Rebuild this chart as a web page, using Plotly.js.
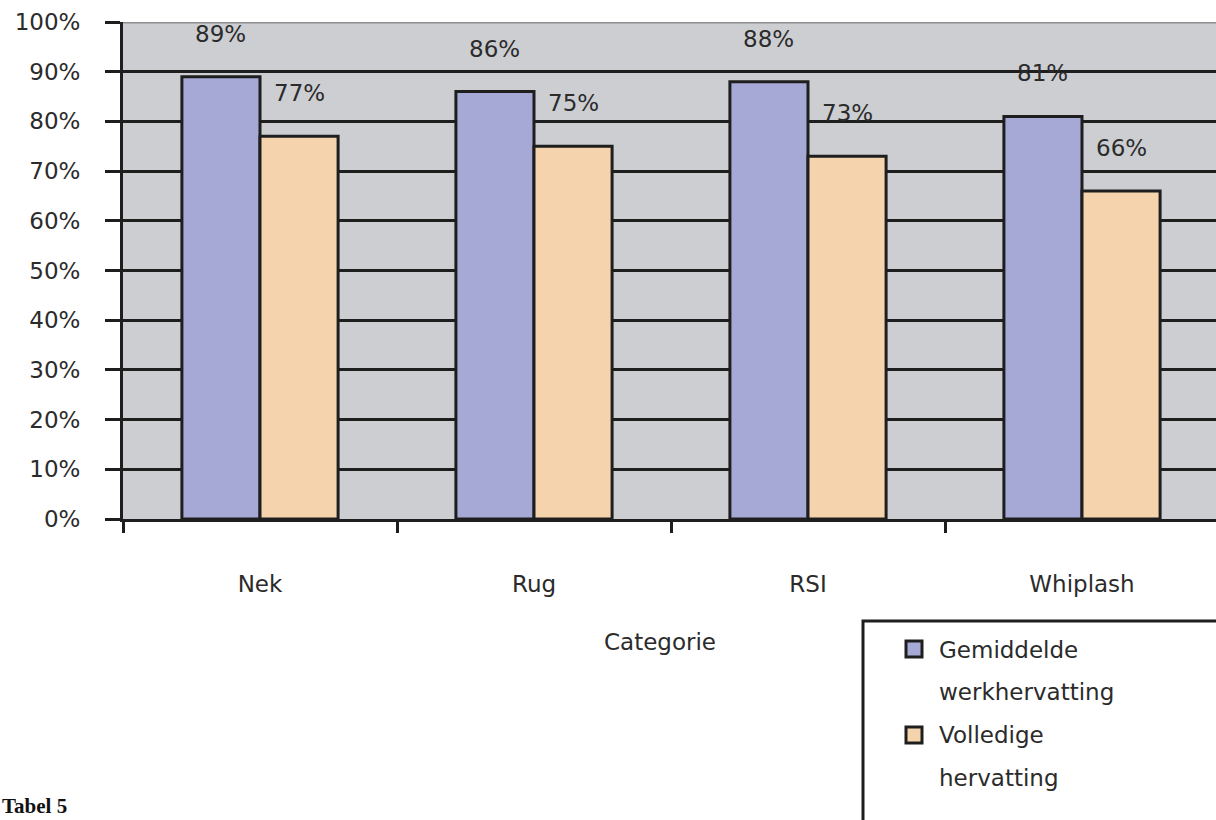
<!DOCTYPE html>
<html>
<head>
<meta charset="utf-8">
<script src="https://cdn.plot.ly/plotly-3.0.1.min.js"></script>
<style>
  html, body { margin: 0; padding: 0; background: #ffffff; }
  #chart { width: 1216px; height: 820px; }
</style>
</head>
<body>
<div id="chart"></div>
<script>
// Werkhervatting per categorie (percentages)
const categories = ['Nek', 'Rug', 'RSI', 'Whiplash'];
const seriesNames = ['Gemiddelde<br>werkhervatting', 'Volledige<br>hervatting'];
const gemiddelde = [89, 86, 88, 81];
const volledige = [77, 75, 73, 66];
const yTickVals = [0, 10, 20, 30, 40, 50, 60, 70, 80, 90, 100];
const yTickText = ['0%', '10%', '20%', '30%', '40%', '50%', '60%', '70%', '80%', '90%', '100%'];

const colors = ['#a6a8d6', '#f5d4ad'];
const font = 'DejaVu Sans, Verdana, sans-serif';
const textColor = '#2b2b2b';

const W = 1216, H = 820;
const margin = { l: 123, r: 0, t: 22, b: 301 };
const plotW = W - margin.l - margin.r;
const plotH = H - margin.t - margin.b;
// pixel -> paper helpers for the decorations around the plot
const px = x => (x - margin.l) / plotW;
const py = y => (H - margin.b - y) / plotH;

const bargap = 0.43;
const barHalf = (1 - bargap) / 4; // center offset of each bar in a group

const seriesValues = [gemiddelde, volledige];
const traces = seriesValues.map((vals, k) => ({
  type: 'bar',
  x: categories,
  y: vals,
  name: seriesNames[k],
  marker: { color: colors[k], line: { color: '#1e1e1e', width: 3 } },
  hoverinfo: 'x+y',
  showlegend: false
}));

const annotations = [];
// value labels, set above each bar
seriesValues.forEach((vals, k) => {
  vals.forEach((v, i) => {
    annotations.push({
      x: i + (k === 0 ? -barHalf : barHalf),
      y: v,
      xref: 'x', yref: 'y',
      text: v + '%',
      showarrow: false,
      yanchor: 'middle',
      yshift: 43,
      font: { family: font, size: 23, color: textColor }
    });
  });
});

// axis title
annotations.push({
  x: px(660), y: py(657), xref: 'paper', yref: 'paper',
  text: 'Categorie', showarrow: false,
  font: { family: font, size: 23, color: textColor }
});

// legend text lines
const legendLines = [
  seriesNames[0].split('<br>'),
  seriesNames[1].split('<br>')
];
const legendRows = [650, 692, 735, 778];
let row = 0;
legendLines.forEach(lines => {
  lines.forEach(line => {
    annotations.push({
      x: px(937), y: py(legendRows[row]), xref: 'paper', yref: 'paper',
      xanchor: 'left', yanchor: 'middle',
      text: line, showarrow: false,
      font: { family: font, size: 23, color: textColor }
    });
    row++;
  });
});

// caption at the bottom left
annotations.push({
  x: px(0), y: py(820), xref: 'paper', yref: 'paper',
  xanchor: 'left', yanchor: 'bottom',
  text: '<b>Tabel 5</b>', showarrow: false,
  font: { family: 'Liberation Serif, Times New Roman, serif', size: 21, color: '#111' }
});

const shapes = [
  // top border of the plot area
  { type: 'line', xref: 'paper', yref: 'y', x0: 0, x1: 1, y0: 100, y1: 100,
    line: { color: '#8e8e90', width: 3 }, layer: 'above' },
  // legend box
  { type: 'rect', xref: 'paper', yref: 'paper',
    x0: px(863), x1: px(1230), y0: py(621), y1: py(840),
    line: { color: '#1e1e1e', width: 3 }, fillcolor: '#ffffff' },
  // legend swatches
  { type: 'rect', xref: 'paper', yref: 'paper',
    x0: px(906), x1: px(922), y0: py(641), y1: py(657),
    line: { color: '#1e1e1e', width: 3 }, fillcolor: colors[0] },
  { type: 'rect', xref: 'paper', yref: 'paper',
    x0: px(906), x1: px(922), y0: py(727), y1: py(743),
    line: { color: '#1e1e1e', width: 3 }, fillcolor: colors[1] }
];

const layout = {
  width: W, height: H,
  margin: margin,
  paper_bgcolor: '#ffffff',
  plot_bgcolor: '#cdced2',
  barmode: 'group',
  bargap: bargap,
  bargroupgap: 0,
  showlegend: false,
  font: { family: font, size: 23, color: textColor },
  xaxis: {
    type: 'category',
    range: [-0.5, -0.5 + plotW / 274],
    tickson: 'boundaries',
    ticks: 'outside', ticklen: 11, tickwidth: 3, tickcolor: '#1e1e1e',
    ticklabelstandoff: 42,
    showgrid: false,
    showline: true, linecolor: '#1e1e1e', linewidth: 3,
    zeroline: false,
    tickfont: { family: font, size: 23, color: textColor },
    fixedrange: true
  },
  yaxis: {
    range: [0, 100],
    tickmode: 'array', tickvals: yTickVals, ticktext: yTickText,
    ticks: 'outside', ticklen: 15, tickwidth: 3, tickcolor: '#1e1e1e',
    ticklabelstandoff: 20,
    showgrid: true, gridcolor: '#1e1e1e', gridwidth: 3,
    showline: true, linecolor: '#1e1e1e', linewidth: 3,
    zeroline: false,
    tickfont: { family: font, size: 23, color: textColor },
    fixedrange: true
  },
  annotations: annotations,
  shapes: shapes
};

Plotly.newPlot('chart', traces, layout, { displayModeBar: false, staticPlot: true });
</script>
</body>
</html>
